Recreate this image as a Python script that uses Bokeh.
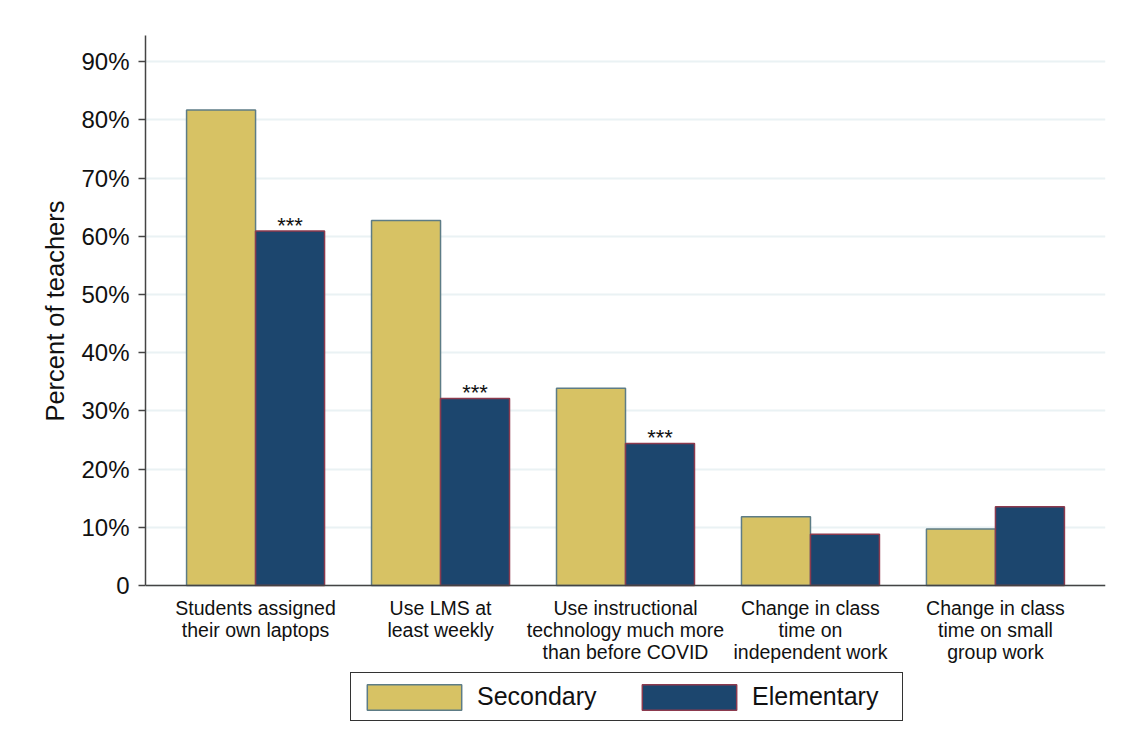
from bokeh.plotting import figure
from bokeh.models import ColumnDataSource, FixedTicker, Legend, LegendItem, Title
from bokeh.embed import file_html
from bokeh.resources import INLINE
from bokeh.core.properties import value

# Survey measures (percent of teachers)
categories = [
    "Students assigned\ntheir own laptops",
    "Use LMS at\nleast weekly",
    "Use instructional\ntechnology much more\nthan before COVID",
    "Change in class\ntime on\nindependent work",
    "Change in class\ntime on small\ngroup work",
]
secondary = [81.7, 62.7, 33.9, 11.8, 9.7]
elementary = [60.9, 32.1, 24.4, 8.8, 13.5]
significance = ["***", "***", "***", "", ""]
y_ticks = [0, 10, 20, 30, 40, 50, 60, 70, 80, 90]
y_tick_labels = ["0", "10%", "20%", "30%", "40%", "50%", "60%", "70%", "80%", "90%"]

FONT = "Liberation Sans"
SEC_FILL, SEC_LINE = "#d7c264", "#5d7c86"
ELEM_FILL, ELEM_LINE = "#1c466e", "#8c3a4e"
Y_TOP = 94.5
Y_BOTTOM = -28.2  # room under the baseline for category labels and legend

idx = list(range(len(categories)))
bar_w = 0.373
src = ColumnDataSource(dict(
    x_sec=[i - bar_w / 2 for i in idx],
    x_elem=[i + bar_w / 2 for i in idx],
    secondary=secondary,
    elementary=elementary,
    sig=significance,
))

p = figure(
    width=1122, height=749,
    x_range=(-0.595, 4.595), y_range=(Y_BOTTOM, Y_TOP),
    output_backend="svg", toolbar_location=None,
    min_border_left=145, min_border_right=17,
    min_border_top=35, min_border_bottom=0,
)
p.background_fill_color = "white"
p.border_fill_color = "white"
p.outline_line_color = None

r_sec = p.vbar(x="x_sec", top="secondary", width=bar_w, source=src,
               fill_color=SEC_FILL, line_color=SEC_LINE, line_width=1.5)
r_elem = p.vbar(x="x_elem", top="elementary", width=bar_w, source=src,
                fill_color=ELEM_FILL, line_color=ELEM_LINE, line_width=1.5)

# significance markers just above the elementary bars
p.text(x="x_elem", y="elementary", text="sig", source=src,
       text_font=value(FONT), text_font_size="22px", text_color="#111111",
       text_align="center", text_baseline="alphabetic", y_offset=-6)

# y axis, drawn only over the data span
p.yaxis.bounds = (0, Y_TOP)
p.yaxis.ticker = FixedTicker(ticks=y_ticks)
p.yaxis.major_label_overrides = {t: l for t, l in zip(y_ticks, y_tick_labels)}
p.yaxis.major_label_text_font = FONT
p.yaxis.major_label_text_font_size = "24px"
p.yaxis.major_label_text_color = "#111111"
p.yaxis.major_label_standoff = 9
p.yaxis.major_tick_out = 7
p.yaxis.major_tick_in = 0
p.yaxis.minor_tick_out = 0
p.yaxis.minor_tick_in = 0
p.yaxis.axis_line_color = "#444444"
p.yaxis.axis_line_width = 1.5
p.yaxis.major_tick_line_color = "#444444"
p.yaxis.major_tick_line_width = 1.5

# y axis title, anchored from the top of the frame so it sits beside the axis span
y_title = Title(text="Percent of teachers", align="right", offset=165,
                text_font=FONT, text_font_size="25.5px", text_font_style="normal",
                text_color="#111111", standoff=19)
p.add_layout(y_title, "left")

# x axis pinned to the zero line, with category labels
p.xaxis.fixed_location = 0
p.xaxis.ticker = FixedTicker(ticks=idx)
p.xaxis.major_label_overrides = {i: c for i, c in zip(idx, categories)}
p.xaxis.major_label_text_font = FONT
p.xaxis.major_label_text_font_size = "19.5px"
p.xaxis.major_label_text_color = "#111111"
p.xaxis.major_label_text_line_height = 1.0
p.xaxis.major_label_standoff = 12
p.xaxis.major_tick_out = 0
p.xaxis.major_tick_in = 0
p.xaxis.minor_tick_out = 0
p.xaxis.minor_tick_in = 0
p.xaxis.axis_line_color = "#444444"
p.xaxis.axis_line_width = 1.5

p.xgrid.grid_line_color = None
p.ygrid.grid_line_color = "#eaf2f4"
p.ygrid.grid_line_width = 2

legend = Legend(
    items=[LegendItem(label="Secondary", renderers=[r_sec]),
           LegendItem(label="Elementary", renderers=[r_elem])],
    orientation="horizontal", location=(205, 28),
    glyph_width=118, glyph_height=32, label_standoff=4, spacing=7,
    label_width=146, label_height=39,
    padding=4, margin=0,
    label_text_font=FONT, label_text_font_size="25px", label_text_color="#111111",
    border_line_color="#333333", border_line_width=1.5, border_line_alpha=1.0,
    background_fill_color="white", background_fill_alpha=1.0,
)
p.add_layout(legend, "center")

open("out.html", "w").write(file_html(p, INLINE))
